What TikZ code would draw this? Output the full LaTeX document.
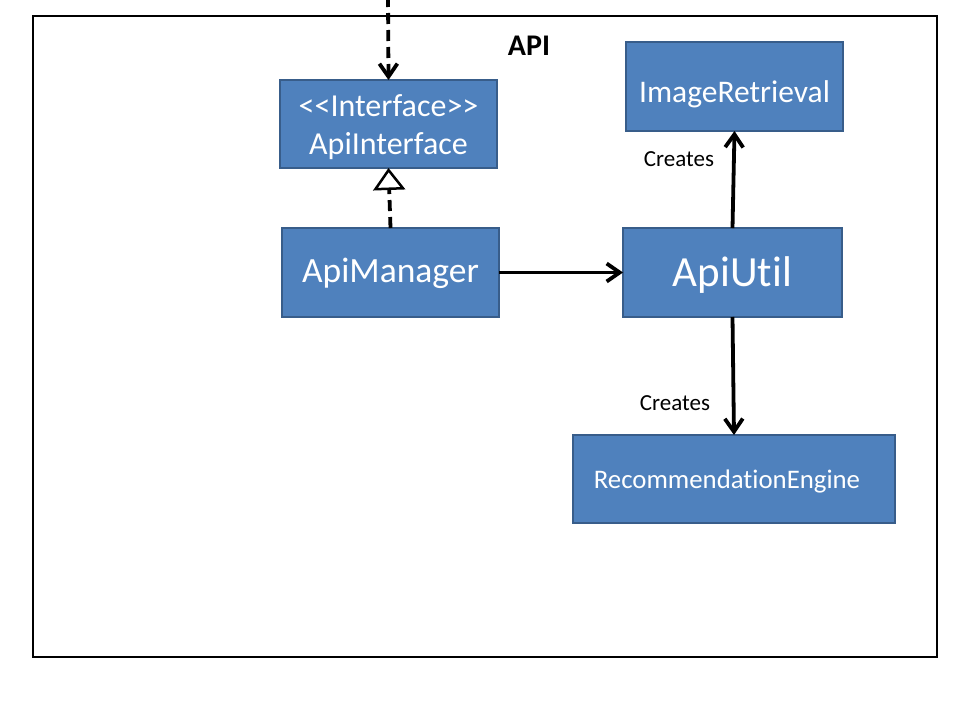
\documentclass[tikz,border=0pt]{standalone}
\usepackage{fontspec}
\setmainfont{Carlito}[Ligatures={NoCommon}]
\usetikzlibrary{arrows.meta}
\definecolor{boxfill}{HTML}{4F81BD}
\definecolor{boxline}{HTML}{385D8A}
\tikzset{
  umlbox/.style={draw=boxline, fill=boxfill, line width=2pt, text=white, inner sep=0pt, outer sep=0pt, align=center},
  conn/.style={line width=3.8pt, draw=black},
  barb/.style={-{Straight Barb[length=13pt,width=18pt,line width=3.8pt]}},
  realize/.style={-{Triangle[open,length=22pt,width=32pt,line width=2.5pt,fill=white]}},
  dashline/.style={dash pattern=on 11pt off 6pt},
  lbl/.style={inner sep=0pt, anchor=base, font=\fontsize{23}{26}\selectfont}
}
\begin{document}
\begin{tikzpicture}[x=1pt,y=-1pt]
\useasboundingbox (0,0) rectangle (960,720);
\fill[white] (0,0) rectangle (960,720);
\draw[line width=2.6pt] (33,16) rectangle (937,657);
\node[inner sep=0pt, anchor=base, font=\bfseries\fontsize{30}{34}\selectfont] (apititle) at (529,55) {API};

\node[umlbox, minimum width=217pt, minimum height=88pt, font=\fontsize{32}{38}\selectfont] (iface) at (388.5,124) {\rule{0pt}{28pt}<{}<Interface>{}>\\ApiInterface};
\node[umlbox, minimum width=217pt, minimum height=89pt, text height=20.4pt, text depth=0pt, font=\fontsize{35.5}{40}\selectfont] (mgr) at (390.5,272.5) {ApiManager};
\node[umlbox, minimum width=217pt, minimum height=89pt, text height=31pt, text depth=0pt, font=\fontsize{31.5}{36}\selectfont] (img) at (734.5,86.5) {ImageRetrieval};
\node[umlbox, minimum width=219pt, minimum height=89pt, text height=28.4pt, text depth=0pt, font=\fontsize{43}{48}\selectfont] (util) at (732.5,272.5) {ApiUtil};
\node[umlbox, minimum width=322pt, minimum height=88pt, text height=18pt, text depth=0pt, font=\fontsize{26.8}{30}\selectfont] (reco) at (734,479) {RecommendationEngine\hspace*{14pt}};

\coordinate (topc) at (388,-4);
\draw[conn, dashline, barb] (topc) -- (iface.north);
\draw[conn, dashline, realize] (mgr.north) -- (iface.south);
\draw[conn, barb] (mgr.east) -- (util.west);
\draw[conn, barb] (util.north) -- (img.south);
\draw[conn, barb] (util.south) -- (reco.north);

\node[lbl] (cr1) at (679,166) {Creates};
\node[lbl] (cr2) at (675,410.7) {Creates};
\end{tikzpicture}
\end{document}
